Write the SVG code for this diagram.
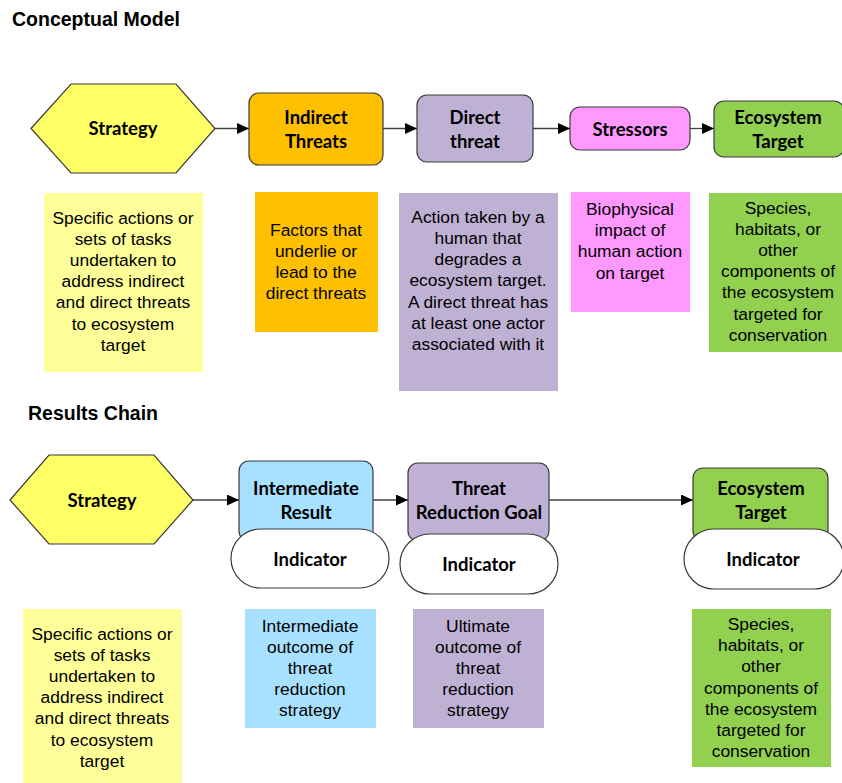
<svg xmlns="http://www.w3.org/2000/svg" width="842" height="783" viewBox="0 0 842 783">
<defs>
<marker id="arr" markerUnits="userSpaceOnUse" markerWidth="12" markerHeight="11" refX="12" refY="5.5" orient="auto">
<path d="M0,0 L12,5.5 L0,11 z" fill="#000"/>
</marker>
<style>
.title{font-family:"Liberation Sans",Arial,sans-serif;font-weight:bold;font-size:19.5px;fill:#000}
.nl{font-family:Lato,"Open Sans",sans-serif;font-weight:bold;font-size:18.5px;fill:#000;text-anchor:middle;dominant-baseline:central}
.dt{font-family:"Liberation Sans",Arial,sans-serif;font-size:17.4px;fill:#000;text-anchor:middle}
.nd{stroke:#3a3a3a;stroke-width:1.2}
.ind{fill:#fff;stroke:#3a3a3a;stroke-width:1.2}
.conn line{stroke:#404040;stroke-width:1.3;fill:none}
</style>
</defs>
<rect width="842" height="783" fill="#fff"/>
<text class="title" x="12" y="26">Conceptual Model</text>
<text class="title" x="28" y="420">Results Chain</text>

<g id="connectors" class="conn">
<line x1="215" y1="128.5" x2="249" y2="128.5" marker-end="url(#arr)"/>
<line x1="383" y1="128.5" x2="417" y2="128.5" marker-end="url(#arr)"/>
<line x1="533" y1="128.5" x2="570" y2="128.5" marker-end="url(#arr)"/>
<line x1="690" y1="128.5" x2="714" y2="128.5" marker-end="url(#arr)"/>
<line x1="193" y1="500" x2="239" y2="500" marker-end="url(#arr)"/>
<line x1="373" y1="500" x2="408" y2="500" marker-end="url(#arr)"/>
<line x1="549" y1="500" x2="693" y2="500" marker-end="url(#arr)"/>
</g>

<!-- Conceptual model nodes -->
<g id="cm-strategy">
<polygon class="nd" points="31,128.5 71,84 176,84 215,128.5 176,173 71,173" fill="#FFFF66"/>
<text class="nl" x="123" y="128">Strategy</text>
</g>
<g id="cm-indirect">
<rect class="nd" x="249" y="93" width="134" height="72" rx="10" fill="#FFC000"/>
<text class="nl" x="316" y="116.5">Indirect</text>
<text class="nl" x="316" y="140.5">Threats</text>
</g>
<g id="cm-direct">
<rect class="nd" x="417" y="95" width="116" height="67" rx="10" fill="#BFB1D4"/>
<text class="nl" x="475" y="116.5">Direct</text>
<text class="nl" x="475" y="140.5">threat</text>
</g>
<g id="cm-stressors">
<rect class="nd" x="570" y="107" width="120" height="43" rx="10" fill="#FF99FF"/>
<text class="nl" x="630" y="128.5">Stressors</text>
</g>
<g id="cm-target">
<rect class="nd" x="714" y="101" width="130" height="56" rx="10" fill="#92D050"/>
<text class="nl" x="778" y="116.5">Ecosystem</text>
<text class="nl" x="778" y="140.5">Target</text>
</g>

<g id="cm-desc-strategy">
<rect x="44" y="193" width="159" height="179" fill="#FFFF99"/>
<text class="dt" x="123" y="224">Specific actions or</text>
<text class="dt" x="123" y="245">sets of tasks</text>
<text class="dt" x="123" y="266">undertaken to</text>
<text class="dt" x="123" y="287">address indirect</text>
<text class="dt" x="123" y="308">and direct threats</text>
<text class="dt" x="123" y="330">to ecosystem</text>
<text class="dt" x="123" y="351">target</text>
</g>
<g id="cm-desc-indirect">
<rect x="255" y="192" width="123" height="140" fill="#FFC000"/>
<text class="dt" x="316" y="236">Factors that</text>
<text class="dt" x="316" y="257">underlie or</text>
<text class="dt" x="316" y="278">lead to the</text>
<text class="dt" x="316" y="299">direct threats</text>
</g>
<g id="cm-desc-direct">
<rect x="399" y="193" width="159" height="198" fill="#BFB1D4"/>
<text class="dt" x="478" y="223">Action taken by a</text>
<text class="dt" x="478" y="244">human that</text>
<text class="dt" x="478" y="265">degrades a</text>
<text class="dt" x="478" y="286">ecosystem target.</text>
<text class="dt" x="478" y="308">A direct threat has</text>
<text class="dt" x="478" y="329">at least one actor</text>
<text class="dt" x="478" y="350">associated with it</text>
</g>
<g id="cm-desc-stressors">
<rect x="571" y="192" width="119" height="120" fill="#FF99FF"/>
<text class="dt" x="630" y="215">Biophysical</text>
<text class="dt" x="630" y="236">impact of</text>
<text class="dt" x="630" y="257">human action</text>
<text class="dt" x="630" y="279">on target</text>
</g>
<g id="cm-desc-target">
<rect x="709" y="193" width="133" height="159" fill="#92D050"/>
<text class="dt" x="778" y="214">Species,</text>
<text class="dt" x="778" y="235">habitats, or</text>
<text class="dt" x="778" y="256">other</text>
<text class="dt" x="778" y="277">components of</text>
<text class="dt" x="778" y="298">the ecosystem</text>
<text class="dt" x="778" y="320">targeted for</text>
<text class="dt" x="778" y="341">conservation</text>
</g>

<!-- Results chain nodes -->
<g id="rc-strategy">
<polygon class="nd" points="10,500 49,455 154,455 193,500 154,544 49,544" fill="#FFFF66"/>
<text class="nl" x="102" y="499.5">Strategy</text>
</g>
<g id="rc-ir">
<rect class="nd" x="239" y="461" width="134" height="80" rx="10" fill="#A8E0FF"/>
<text class="nl" x="306" y="487.5">Intermediate</text>
<text class="nl" x="306" y="511.5">Result</text>
</g>
<g id="rc-ir-indicator">
<rect class="ind" x="231" y="529" width="158" height="59" rx="29.5"/>
<text class="nl" x="310" y="558.5">Indicator</text>
</g>
<g id="rc-trg">
<rect class="nd" x="408" y="463" width="141" height="78" rx="10" fill="#BFB1D4"/>
<text class="nl" x="479" y="487.5">Threat</text>
<text class="nl" x="479" y="511.5">Reduction Goal</text>
</g>
<g id="rc-trg-indicator">
<rect class="ind" x="400" y="534" width="158" height="60" rx="30"/>
<text class="nl" x="479" y="563.5">Indicator</text>
</g>
<g id="rc-target">
<rect class="nd" x="693" y="468" width="135" height="73" rx="10" fill="#92D050"/>
<text class="nl" x="761" y="487.5">Ecosystem</text>
<text class="nl" x="761" y="511.5">Target</text>
</g>
<g id="rc-target-indicator">
<rect class="ind" x="684" y="529" width="160" height="60" rx="30"/>
<text class="nl" x="763" y="558.5">Indicator</text>
</g>

<g id="rc-desc-strategy">
<rect x="23" y="609" width="159" height="174" fill="#FFFF99"/>
<text class="dt" x="102" y="640">Specific actions or</text>
<text class="dt" x="102" y="661">sets of tasks</text>
<text class="dt" x="102" y="682">undertaken to</text>
<text class="dt" x="102" y="703">address indirect</text>
<text class="dt" x="102" y="724">and direct threats</text>
<text class="dt" x="102" y="746">to ecosystem</text>
<text class="dt" x="102" y="767">target</text>
</g>
<g id="rc-desc-ir">
<rect x="245" y="609" width="131" height="119" fill="#A8E0FF"/>
<text class="dt" x="310" y="632">Intermediate</text>
<text class="dt" x="310" y="653">outcome of</text>
<text class="dt" x="310" y="674">threat</text>
<text class="dt" x="310" y="695">reduction</text>
<text class="dt" x="310" y="716">strategy</text>
</g>
<g id="rc-desc-trg">
<rect x="413" y="609" width="131" height="119" fill="#BFB1D4"/>
<text class="dt" x="478" y="632">Ultimate</text>
<text class="dt" x="478" y="653">outcome of</text>
<text class="dt" x="478" y="674">threat</text>
<text class="dt" x="478" y="695">reduction</text>
<text class="dt" x="478" y="716">strategy</text>
</g>
<g id="rc-desc-target">
<rect x="692" y="609" width="139" height="158" fill="#92D050"/>
<text class="dt" x="761" y="630">Species,</text>
<text class="dt" x="761" y="651">habitats, or</text>
<text class="dt" x="761" y="672">other</text>
<text class="dt" x="761" y="694">components of</text>
<text class="dt" x="761" y="715">the ecosystem</text>
<text class="dt" x="761" y="736">targeted for</text>
<text class="dt" x="761" y="757">conservation</text>
</g>
</svg>
